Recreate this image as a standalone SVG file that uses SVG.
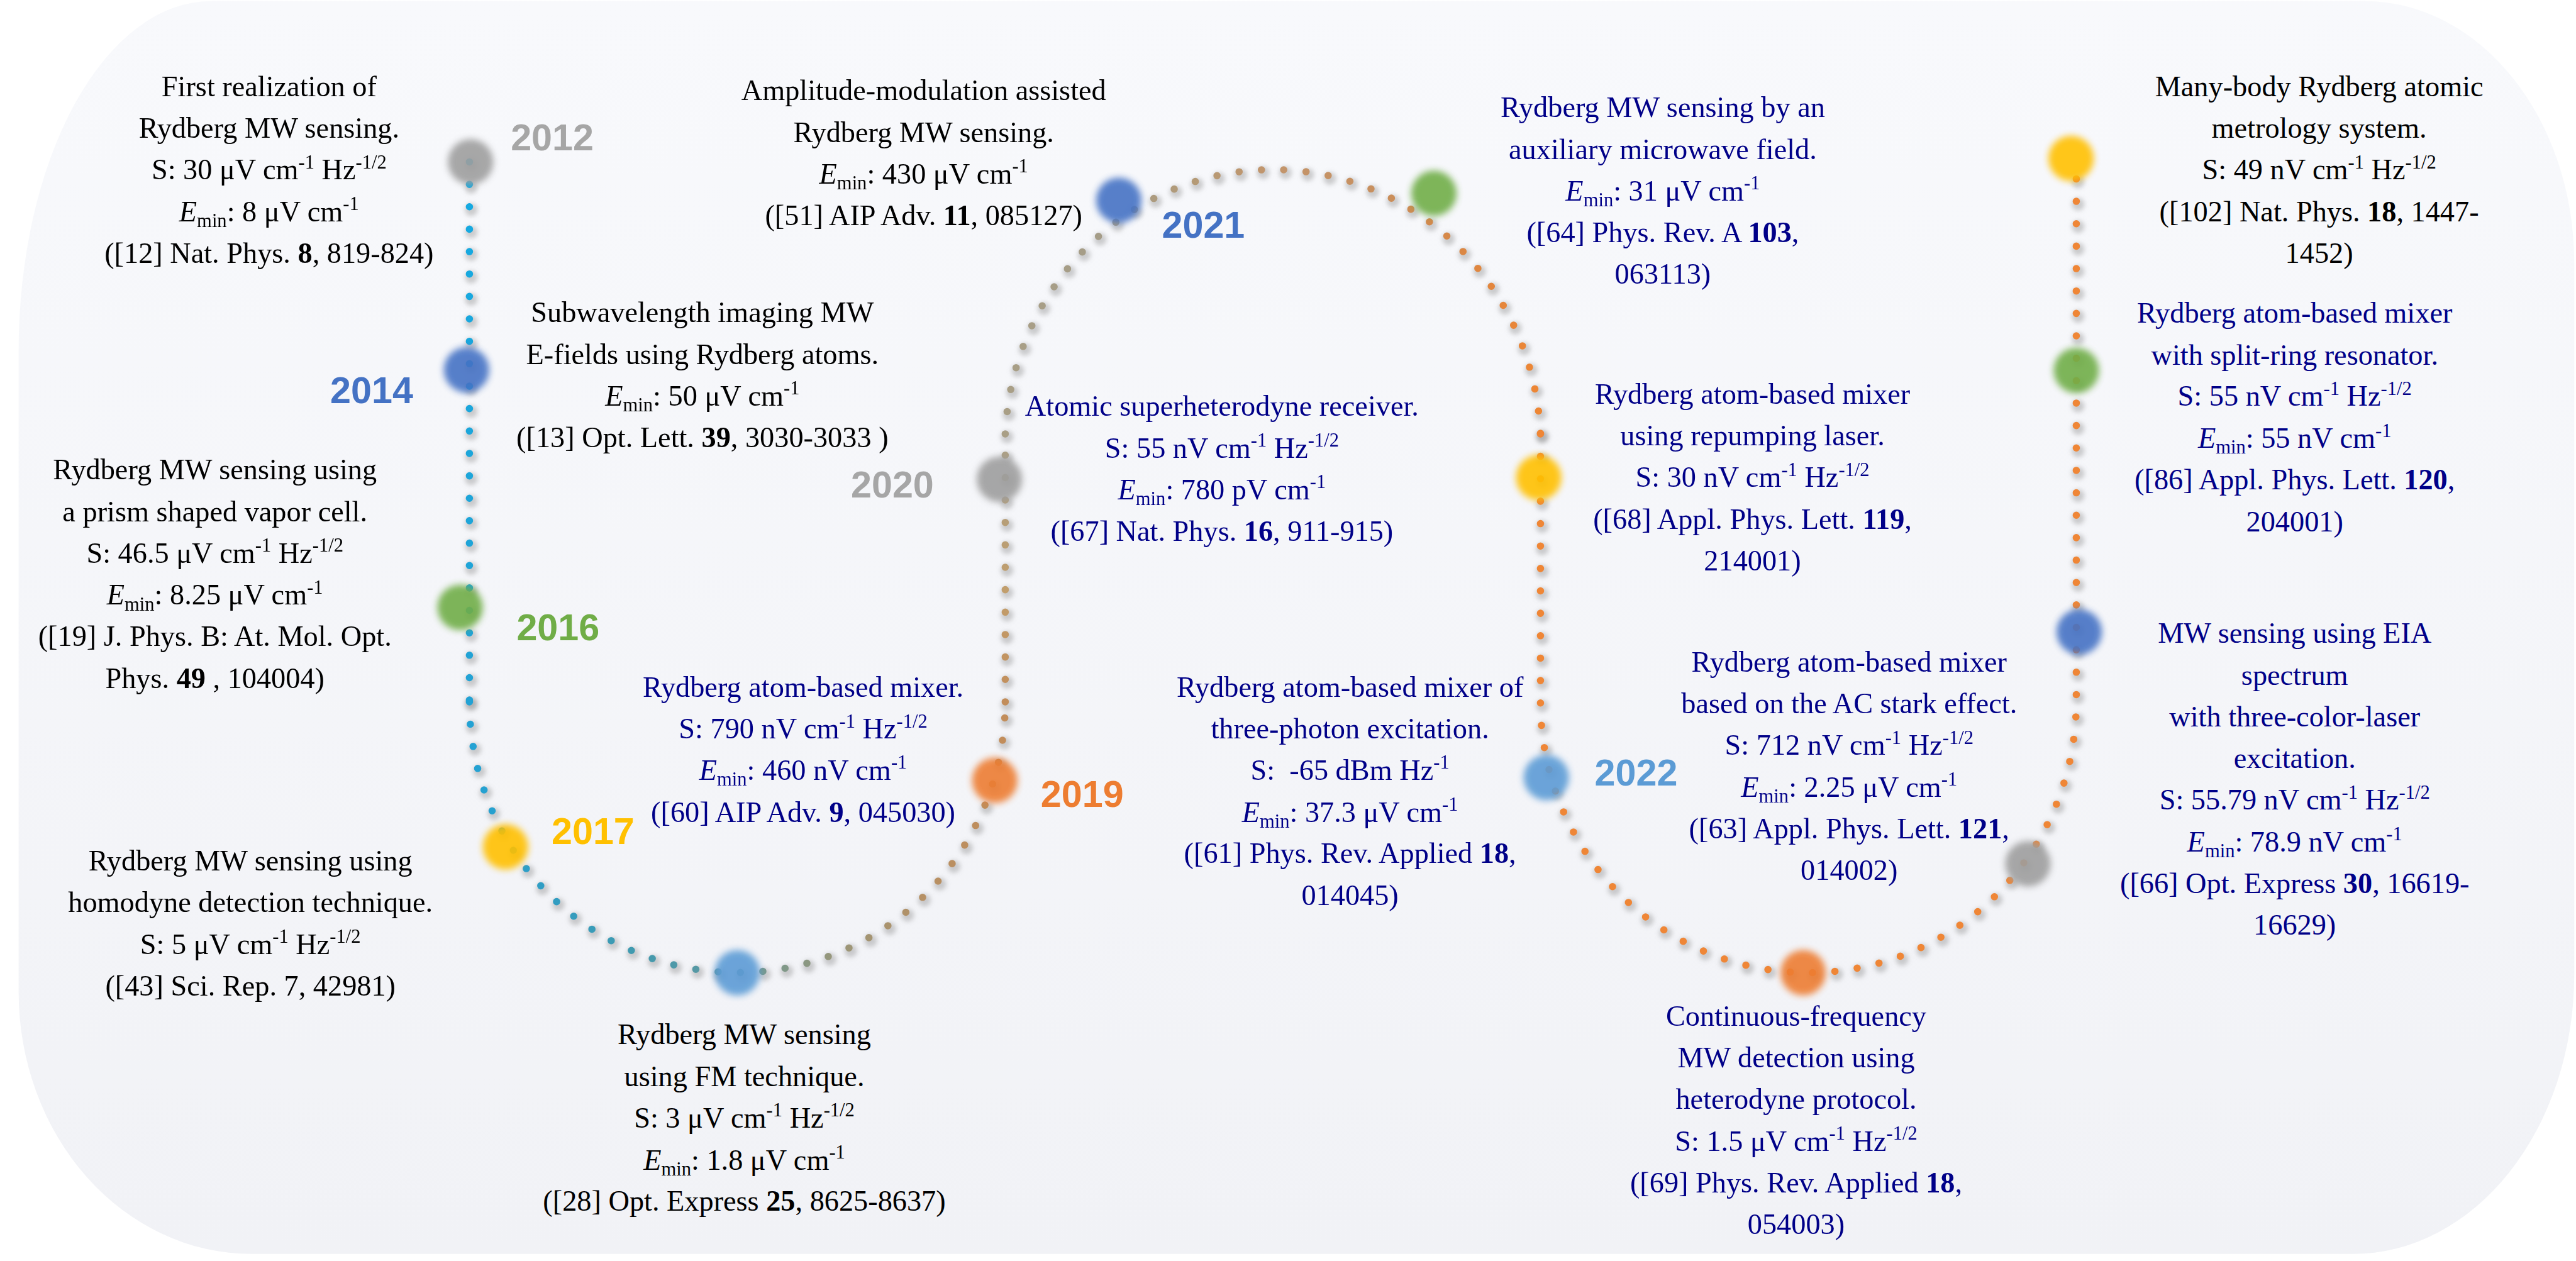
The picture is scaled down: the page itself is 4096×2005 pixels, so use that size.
<svg xmlns="http://www.w3.org/2000/svg" width="4096" height="2005" viewBox="0 0 4096 2005">
<defs>
<style>
.t{font-family:"Liberation Serif","Times New Roman",serif;font-size:50px;text-anchor:middle}
.k{fill:#000}
.b{fill:#000088}
.s{font-size:33px}
.i{font-style:italic}
.bd{font-weight:bold}
.y{font-family:"Liberation Sans",Arial,sans-serif;font-weight:bold;font-size:64px}
.dot{fill:none;stroke-width:12.5;stroke-linecap:round;stroke-dasharray:0 38.5}
.sh{fill:none;stroke:#8e8e8e;stroke-width:22;stroke-linecap:round;stroke-dasharray:0 38.5;opacity:.42}
.node{filter:url(#blur);opacity:.9}
</style>
<linearGradient id="bg" x1="0" y1="0" x2="0" y2="1">
<stop offset="0" stop-color="#f8f9fc"/><stop offset="1" stop-color="#f1f2f6"/>
</linearGradient>
<filter id="blur" x="-50%" y="-50%" width="200%" height="200%"><feGaussianBlur stdDeviation="6"/></filter>
<filter id="sblur" x="-20%" y="-20%" width="140%" height="140%"><feGaussianBlur stdDeviation="4"/></filter>
<linearGradient id="g1" gradientUnits="userSpaceOnUse" x1="0" y1="278" x2="0" y2="1205">
<stop offset="0" stop-color="#14aae2"/><stop offset="1" stop-color="#23a2d4"/>
</linearGradient>
<linearGradient id="g2" gradientUnits="userSpaceOnUse" x1="806" y1="0" x2="1726" y2="0">
<stop offset="0" stop-color="#23a2d4"/><stop offset="0.12" stop-color="#2e9ec6"/><stop offset="0.3" stop-color="#3f9ab0"/><stop offset="0.45" stop-color="#5a98a2"/><stop offset="0.56" stop-color="#7a998c"/><stop offset="0.7" stop-color="#9c9678"/><stop offset="0.85" stop-color="#b69064"/><stop offset="1" stop-color="#c28d5a"/>
</linearGradient>
<linearGradient id="g3" gradientUnits="userSpaceOnUse" x1="0" y1="1205" x2="0" y2="745">
<stop offset="0" stop-color="#c28d5a"/><stop offset="0.4" stop-color="#c29e6c"/><stop offset="1" stop-color="#a99f86"/>
</linearGradient>
<linearGradient id="g4" gradientUnits="userSpaceOnUse" x1="1726" y1="0" x2="2645" y2="0">
<stop offset="0" stop-color="#a99f86"/><stop offset="0.2" stop-color="#a49c88"/><stop offset="0.35" stop-color="#b49a76"/><stop offset="0.5" stop-color="#c2956c"/><stop offset="0.7" stop-color="#c88f5e"/><stop offset="0.8" stop-color="#d2894c"/><stop offset="0.9" stop-color="#e2863e"/><stop offset="1" stop-color="#ee8634"/>
</linearGradient>
<path id="s1" d="M806 278 L806 1205"/>
<path id="s2" d="M806 1205 A460 465 0 0 0 1726 1205"/>
<path id="s3" d="M1726 1205 L1726 745"/>
<path id="s4" d="M1726 745 A460 476 0 0 1 2645 745"/>
<path id="s5" d="M2645 745 L2645 1205 A460 465 0 0 0 3565 1205 L3565 272"/>
</defs>
<rect width="4096" height="2005" fill="#fff"/>
<g transform="scale(0.92607)">
<path d="M362 2 L4060 2 A360 450 0 0 1 4420 452 L4420 1673 A380 480 0 0 1 4040 2153 L432 2153 A400 450 0 0 1 32 1703 L32 602 A330 600 0 0 1 362 2 Z" fill="url(#bg)"/>

<g id="connectors">
<g filter="url(#sblur)" transform="translate(3,5)">
<use href="#s1" class="sh"/><use href="#s2" class="sh"/><use href="#s3" class="sh"/><use href="#s4" class="sh"/><use href="#s5" class="sh"/>
</g>
<use href="#s1" class="dot" stroke="url(#g1)"/>
<use href="#s2" class="dot" stroke="url(#g2)"/>
<use href="#s3" class="dot" stroke="url(#g3)"/>
<use href="#s4" class="dot" stroke="url(#g4)"/>
<use href="#s5" class="dot" stroke="#ef8636"/>
</g>

<g id="node-2012">
<circle class="node" cx="808" cy="278" r="39" fill="#9e9e9e"/>
<text class="y" x="877" y="258" fill="#a6a6a6">2012</text>
<g class="t k">
<text x="462" y="165">First realization of</text>
<text x="462" y="237">Rydberg MW sensing.</text>
<text x="462" y="308">S: 30 μV cm<tspan class="s" dy="-19">-1</tspan><tspan dy="19"> Hz</tspan><tspan class="s" dy="-19">-1/2</tspan></text>
<text x="462" y="380"><tspan class="i">E</tspan><tspan class="s" dy="10">min</tspan><tspan dy="-10">: 8 μV cm</tspan><tspan class="s" dy="-19">-1</tspan></text>
<text x="462" y="451">([12] Nat. Phys. <tspan class="bd">8</tspan>, 819-824)</text>
</g>
</g>

<g id="node-2014">
<circle class="node" cx="801" cy="635" r="39" fill="#4472c4"/>
<text class="y" x="567" y="692" fill="#4472c4">2014</text>
<g class="t k">
<text x="1206" y="553">Subwavelength imaging MW</text>
<text x="1206" y="625">E-fields using Rydberg atoms.</text>
<text x="1206" y="696"><tspan class="i">E</tspan><tspan class="s" dy="10">min</tspan><tspan dy="-10">: 50 μV cm</tspan><tspan class="s" dy="-19">-1</tspan></text>
<text x="1206" y="768">([13] Opt. Lett. <tspan class="bd">39</tspan>, 3030-3033 )</text>
</g>
</g>

<g id="node-2016">
<circle class="node" cx="790" cy="1043" r="39" fill="#70ad47"/>
<text class="y" x="887" y="1099" fill="#70ad47">2016</text>
<g class="t k">
<text x="369" y="823">Rydberg MW sensing using</text>
<text x="369" y="895">a prism shaped vapor cell.</text>
<text x="369" y="966">S: 46.5 μV cm<tspan class="s" dy="-19">-1</tspan><tspan dy="19"> Hz</tspan><tspan class="s" dy="-19">-1/2</tspan></text>
<text x="369" y="1038"><tspan class="i">E</tspan><tspan class="s" dy="10">min</tspan><tspan dy="-10">: 8.25 μV cm</tspan><tspan class="s" dy="-19">-1</tspan></text>
<text x="369" y="1109">([19] J. Phys. B: At. Mol. Opt.</text>
<text x="369" y="1181">Phys. <tspan class="bd">49</tspan> , 104004)</text>
</g>
</g>

<g id="node-2017">
<circle class="node" cx="868" cy="1454" r="39" fill="#ffc000"/>
<text class="y" x="947" y="1449" fill="#ffc000">2017</text>
<g class="t k">
<text x="430" y="1495">Rydberg MW sensing using</text>
<text x="430" y="1566">homodyne detection technique.</text>
<text x="430" y="1638">S: 5 μV cm<tspan class="s" dy="-19">-1</tspan><tspan dy="19"> Hz</tspan><tspan class="s" dy="-19">-1/2</tspan></text>
<text x="430" y="1709">([43] Sci. Rep. 7, 42981)</text>
</g>
</g>

<g id="node-2018">
<circle class="node" cx="1266" cy="1670" r="39" fill="#5b9bd5"/>
<g class="t k">
<text x="1278" y="1793">Rydberg MW sensing</text>
<text x="1278" y="1865">using FM technique.</text>
<text x="1278" y="1936">S: 3 μV cm<tspan class="s" dy="-19">-1</tspan><tspan dy="19"> Hz</tspan><tspan class="s" dy="-19">-1/2</tspan></text>
<text x="1278" y="2008"><tspan class="i">E</tspan><tspan class="s" dy="10">min</tspan><tspan dy="-10">: 1.8 μV cm</tspan><tspan class="s" dy="-19">-1</tspan></text>
<text x="1278" y="2079">([28] Opt. Express <tspan class="bd">25</tspan>, 8625-8637)</text>
</g>
</g>

<g id="node-2019">
<circle class="node" cx="1708" cy="1340" r="39" fill="#ed7d31"/>
<text class="y" x="1787" y="1385" fill="#ed7d31">2019</text>
<g class="t b">
<text x="1379" y="1196">Rydberg atom-based mixer.</text>
<text x="1379" y="1268">S: 790 nV cm<tspan class="s" dy="-19">-1</tspan><tspan dy="19"> Hz</tspan><tspan class="s" dy="-19">-1/2</tspan></text>
<text x="1379" y="1339"><tspan class="i">E</tspan><tspan class="s" dy="10">min</tspan><tspan dy="-10">: 460 nV cm</tspan><tspan class="s" dy="-19">-1</tspan></text>
<text x="1379" y="1411">([60] AIP Adv. <tspan class="bd">9</tspan>, 045030)</text>
</g>
</g>

<g id="node-2020">
<circle class="node" cx="1716" cy="823" r="39" fill="#9e9e9e"/>
<text class="y" x="1461" y="854" fill="#a6a6a6">2020</text>
<g class="t b">
<text x="2098" y="714">Atomic superheterodyne receiver.</text>
<text x="2098" y="786">S: 55 nV cm<tspan class="s" dy="-19">-1</tspan><tspan dy="19"> Hz</tspan><tspan class="s" dy="-19">-1/2</tspan></text>
<text x="2098" y="857"><tspan class="i">E</tspan><tspan class="s" dy="10">min</tspan><tspan dy="-10">: 780 pV cm</tspan><tspan class="s" dy="-19">-1</tspan></text>
<text x="2098" y="929">([67] Nat. Phys. <tspan class="bd">16</tspan>, 911-915)</text>
</g>
</g>

<g id="node-2021a">
<circle class="node" cx="1921" cy="344" r="39" fill="#4472c4"/>
<text class="y" x="1995" y="408" fill="#4472c4">2021</text>
<g class="t k">
<text x="1586" y="172">Amplitude-modulation assisted</text>
<text x="1586" y="244">Rydberg MW sensing.</text>
<text x="1586" y="315"><tspan class="i">E</tspan><tspan class="s" dy="10">min</tspan><tspan dy="-10">: 430 μV cm</tspan><tspan class="s" dy="-19">-1</tspan></text>
<text x="1586" y="387">([51] AIP Adv. <tspan class="bd">11</tspan>, 085127)</text>
</g>
</g>

<g id="node-2021b">
<circle class="node" cx="2462" cy="332" r="39" fill="#70ad47"/>
<g class="t b">
<text x="2855" y="201">Rydberg MW sensing by an</text>
<text x="2855" y="273">auxiliary microwave field.</text>
<text x="2855" y="344"><tspan class="i">E</tspan><tspan class="s" dy="10">min</tspan><tspan dy="-10">: 31 μV cm</tspan><tspan class="s" dy="-19">-1</tspan></text>
<text x="2855" y="416">([64] Phys. Rev. A <tspan class="bd">103</tspan>,</text>
<text x="2855" y="487">063113)</text>
</g>
</g>

<g id="node-2022a">
<circle class="node" cx="2642" cy="820" r="39" fill="#ffc000"/>
<g class="t b">
<text x="3009" y="693">Rydberg atom-based mixer</text>
<text x="3009" y="765">using repumping laser.</text>
<text x="3009" y="836">S: 30 nV cm<tspan class="s" dy="-19">-1</tspan><tspan dy="19"> Hz</tspan><tspan class="s" dy="-19">-1/2</tspan></text>
<text x="3009" y="908">([68] Appl. Phys. Lett. <tspan class="bd">119</tspan>,</text>
<text x="3009" y="979">214001)</text>
</g>
</g>

<g id="node-2022b">
<circle class="node" cx="2655" cy="1335" r="39" fill="#5b9bd5"/>
<text class="y" x="2738" y="1349" fill="#5b9bd5">2022</text>
<g class="t b">
<text x="2318" y="1196">Rydberg atom-based mixer of</text>
<text x="2318" y="1268">three-photon excitation.</text>
<text x="2318" y="1339">S:&#160; -65 dBm Hz<tspan class="s" dy="-19">-1</tspan></text>
<text x="2318" y="1411"><tspan class="i">E</tspan><tspan class="s" dy="10">min</tspan><tspan dy="-10">: 37.3 μV cm</tspan><tspan class="s" dy="-19">-1</tspan></text>
<text x="2318" y="1482">([61] Phys. Rev. Applied <tspan class="bd">18</tspan>,</text>
<text x="2318" y="1554">014045)</text>
</g>
</g>

<g id="node-2022c">
<circle class="node" cx="3096" cy="1670" r="39" fill="#ed7d31"/>
<g class="t b">
<text x="3084" y="1761">Continuous-frequency</text>
<text x="3084" y="1833">MW detection using</text>
<text x="3084" y="1904">heterodyne protocol.</text>
<text x="3084" y="1976">S: 1.5 μV cm<tspan class="s" dy="-19">-1</tspan><tspan dy="19"> Hz</tspan><tspan class="s" dy="-19">-1/2</tspan></text>
<text x="3084" y="2047">([69] Phys. Rev. Applied <tspan class="bd">18</tspan>,</text>
<text x="3084" y="2119">054003)</text>
</g>
</g>

<g id="node-2022d">
<circle class="node" cx="3482" cy="1483" r="39" fill="#9e9e9e"/>
<g class="t b">
<text x="3175" y="1153">Rydberg atom-based mixer</text>
<text x="3175" y="1225">based on the AC stark effect.</text>
<text x="3175" y="1296">S: 712 nV cm<tspan class="s" dy="-19">-1</tspan><tspan dy="19"> Hz</tspan><tspan class="s" dy="-19">-1/2</tspan></text>
<text x="3175" y="1368"><tspan class="i">E</tspan><tspan class="s" dy="10">min</tspan><tspan dy="-10">: 2.25 μV cm</tspan><tspan class="s" dy="-19">-1</tspan></text>
<text x="3175" y="1439">([63] Appl. Phys. Lett. <tspan class="bd">121</tspan>,</text>
<text x="3175" y="1511">014002)</text>
</g>
</g>

<g id="node-2023a">
<circle class="node" cx="3570" cy="1085" r="39" fill="#4472c4"/>
<g class="t b">
<text x="3940" y="1104">MW sensing using EIA</text>
<text x="3940" y="1176">spectrum</text>
<text x="3940" y="1247">with three-color-laser</text>
<text x="3940" y="1319">excitation.</text>
<text x="3940" y="1390">S: 55.79 nV cm<tspan class="s" dy="-19">-1</tspan><tspan dy="19"> Hz</tspan><tspan class="s" dy="-19">-1/2</tspan></text>
<text x="3940" y="1462"><tspan class="i">E</tspan><tspan class="s" dy="10">min</tspan><tspan dy="-10">: 78.9 nV cm</tspan><tspan class="s" dy="-19">-1</tspan></text>
<text x="3940" y="1533">([66] Opt. Express <tspan class="bd">30</tspan>, 16619-</text>
<text x="3940" y="1605">16629)</text>
</g>
</g>

<g id="node-2023b">
<circle class="node" cx="3565" cy="636" r="39" fill="#70ad47"/>
<g class="t b">
<text x="3940" y="554">Rydberg atom-based mixer</text>
<text x="3940" y="626">with split-ring resonator.</text>
<text x="3940" y="697">S: 55 nV cm<tspan class="s" dy="-19">-1</tspan><tspan dy="19"> Hz</tspan><tspan class="s" dy="-19">-1/2</tspan></text>
<text x="3940" y="769"><tspan class="i">E</tspan><tspan class="s" dy="10">min</tspan><tspan dy="-10">: 55 nV cm</tspan><tspan class="s" dy="-19">-1</tspan></text>
<text x="3940" y="840">([86] Appl. Phys. Lett. <tspan class="bd">120</tspan>,</text>
<text x="3940" y="912">204001)</text>
</g>
</g>

<g id="node-2023c">
<circle class="node" cx="3556" cy="272" r="39" fill="#ffc000"/>
<g class="t k">
<text x="3982" y="165">Many-body Rydberg atomic</text>
<text x="3982" y="237">metrology system.</text>
<text x="3982" y="308">S: 49 nV cm<tspan class="s" dy="-19">-1</tspan><tspan dy="19"> Hz</tspan><tspan class="s" dy="-19">-1/2</tspan></text>
<text x="3982" y="380">([102] Nat. Phys. <tspan class="bd">18</tspan>, 1447-</text>
<text x="3982" y="451">1452)</text>
</g>
</g>
</g>
</svg>
